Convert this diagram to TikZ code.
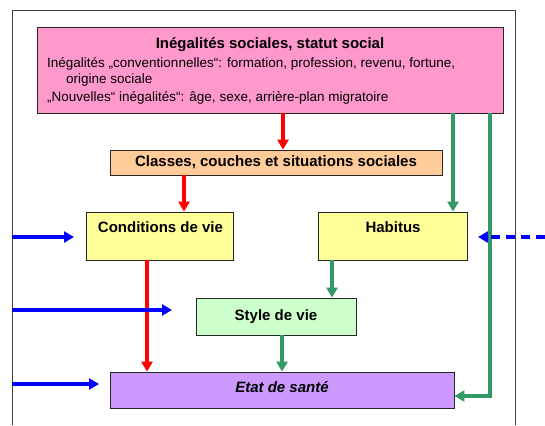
\documentclass[tikz,border=0pt]{standalone}
\usepackage{fontspec}
\setmainfont{Liberation Sans}
\usetikzlibrary{arrows.meta}
\definecolor{pinkf}{HTML}{FF99CC}
\definecolor{orangef}{HTML}{FFCC99}
\definecolor{yellowf}{HTML}{FFFF99}
\definecolor{greenf}{HTML}{CCFFCC}
\definecolor{purplef}{HTML}{CC99FF}
\definecolor{arrred}{HTML}{FF0000}
\definecolor{arrgreen}{HTML}{339966}
\definecolor{arrblue}{HTML}{0000FF}
\tikzset{
  box/.style={draw=black!85, line width=0.8pt, rectangle, inner sep=0pt, anchor=center},
  lbl/.style={font=\fontsize{15}{18}\selectfont\bfseries, inner sep=0pt},
  body/.style={font=\fontsize{13.5}{16}\selectfont, inner sep=0pt, anchor=base west},
  redarr/.style={draw=arrred, line width=3.8pt, -{Triangle[length=10pt,width=11pt]}},
  greenarr/.style={draw=arrgreen, line width=3.3pt, -{Triangle[length=10pt,width=11pt]}},
  bluearr/.style={draw=arrblue, line width=3.2pt, -{Triangle[length=10pt,width=11pt]}},
  frameline/.style={draw=black!75, line width=0.9pt}
}
\begin{document}
\begin{tikzpicture}[x=1pt,y=-1pt]
\useasboundingbox (0,0) rectangle (545,425);
% frame
\draw[frameline] (12,425) -- (12,10) -- (515,10) -- (515,425);
% boxes
\node[box, fill=pinkf, minimum width=466pt, minimum height=86pt] (pink) at (270,70) {};
\node[lbl, anchor=base] (title) at (270,49) {Inégalités sociales, statut social};
\node[body] (l1) at (47,67.5) {Inégalités „conventionnelles“: formation, profession, revenu, fortune,};
\node[body] (l2) at (66,84) {origine sociale};
\node[body] (l3) at (47,102) {„Nouvelles“ inégalités“: âge, sexe, arrière-plan migratoire};
\node[box, fill=orangef, minimum width=332pt, minimum height=25pt, lbl] (orange) at (276,162.5) {Classes, couches et situations sociales};
\node[box, fill=yellowf, minimum width=147pt, minimum height=48pt] (cond) at (159.5,236) {};
\node[lbl] (condt) at (160.5,227) {Conditions de vie};
\node[box, fill=yellowf, minimum width=149pt, minimum height=48pt] (hab) at (392.5,236) {};
\node[lbl] (habt) at (393,227) {Habitus};
\node[box, fill=greenf, minimum width=160pt, minimum height=37pt, lbl] (style) at (276,316.5) {Style de vie};
\node[box, fill=purplef, minimum width=344pt, minimum height=36pt] (etat) at (282,390) {};
\node[lbl, font=\fontsize{15}{18}\selectfont\bfseries\itshape] (etatt) at (282,387) {Etat de santé};
% helper coordinates
\coordinate (xa) at (283,0);
\coordinate (xb) at (184,0);
\coordinate (xc) at (147,0);
\coordinate (xd) at (453,0);
\coordinate (xe) at (490,0);
\coordinate (xf) at (332,0);
\coordinate (xg) at (282,0);
\coordinate (yg) at (0,396);
\coordinate (b1s) at (12,237);
\coordinate (b1e) at (74,237);
\coordinate (b2s) at (545,237);
\coordinate (b2e) at (478,237);
\coordinate (b3s) at (12,310);
\coordinate (b3e) at (172,310);
\coordinate (b4s) at (12,384);
\coordinate (b4e) at (99,384);
% connectors
\draw[redarr] (pink.south -| xa) -- (orange.north -| xa);
\draw[redarr] (orange.south -| xb) -- (cond.north -| xb);
\draw[redarr] (cond.south -| xc) -- (etat.north -| xc);
\draw[greenarr] (pink.south -| xd) -- (hab.north -| xd);
\draw[greenarr] (pink.south -| xe) -- (xe |- yg) -- (etat.east |- yg);
\draw[greenarr] (hab.south -| xf) -- (style.north -| xf);
\draw[greenarr] (style.south -| xg) -- (etat.north -| xg);
\draw[bluearr] (b1s) -- (b1e);
\draw[bluearr, dash pattern=on 9pt off 6pt] (b2s) -- (b2e);
\draw[bluearr] (b3s) -- (b3e);
\draw[bluearr] (b4s) -- (b4e);
\end{tikzpicture}
\end{document}
